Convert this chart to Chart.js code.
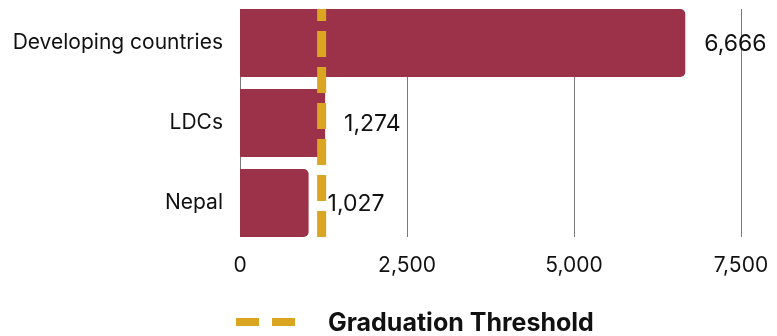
<!DOCTYPE html>
<html>
<head>
<meta charset="utf-8">
<script src="https://cdn.jsdelivr.net/npm/chart.js@4"></script>
<style>
    body { margin: 0; background: #fff; }
    #wrap { position: relative; width: 777px; height: 336px; }
    #leyenda { position: absolute; left: 236px; top: 307px; display: flex; align-items: center;
               font-family: Inter, sans-serif; font-weight: 700; font-size: 25px; color: #111; }
    #leyenda .guion { display: inline-block; width: 23px; height: 8px; background: #DAA520; margin-right: 13px; }
    #leyenda span.texto { margin-left: 20px; }
</style>
</head>
<body>
<div id="wrap">
    <canvas id="grafico"></canvas>
    <div id="leyenda"><i class="guion"></i><i class="guion"></i><span class="texto">Graduation Threshold</span></div>
</div>
<script>
// Datos: ingreso (GNI per capita, USD)
const categorias = ["Developing countries", "LDCs", "Nepal"];
const valores = [6666, 1274, 1027];
const umbral = 1222;
const ticksX = [0, 2500, 5000, 7500];

const colorBarra = "#9B3249";
const colorUmbral = "#DAA520";
const fuente = "Inter, sans-serif";

// Lineas de cuadricula, linea punteada del umbral y etiquetas de valor
const lineasExtra = {
    id: "lineasExtra",
    beforeDatasetsDraw(chart) {
        const ctx = chart.ctx;
        const meta = chart.getDatasetMeta(0);
        const primera = meta.data[0];
        const ultima = meta.data[meta.data.length - 1];
        const arriba = primera.y - primera.height / 2;
        const abajo = ultima.y + ultima.height / 2;
        ctx.save();
        ctx.strokeStyle = "#7a7a7a";
        ctx.lineWidth = 1;
        ticksX.forEach(v => {
            const px = Math.round(chart.scales.x.getPixelForValue(v)) + 0.5;
            ctx.beginPath();
            ctx.moveTo(px, arriba);
            ctx.lineTo(px, abajo);
            ctx.stroke();
        });
        ctx.restore();
    },
    afterDatasetsDraw(chart) {
        const ctx = chart.ctx;
        const meta = chart.getDatasetMeta(0);
        const primera = meta.data[0];
        const ultima = meta.data[meta.data.length - 1];
        const arriba = primera.y - primera.height / 2;
        const abajo = ultima.y + ultima.height / 2;

        ctx.save();
        const px = chart.scales.x.getPixelForValue(umbral);
        ctx.strokeStyle = colorUmbral;
        ctx.lineWidth = 9;
        ctx.setLineDash([26, 10]);
        ctx.beginPath();
        ctx.moveTo(px, abajo);
        ctx.lineTo(px, arriba);
        ctx.stroke();
        ctx.setLineDash([]);

        ctx.fillStyle = "#111";
        ctx.font = "23px " + fuente;
        ctx.textAlign = "left";
        ctx.textBaseline = "middle";
        meta.data.forEach((barra, i) => {
            ctx.fillText(valores[i].toLocaleString("en-US"), barra.x + 19, barra.y + 1);
        });
        ctx.restore();
    }
};

const ctx = document.getElementById("grafico").getContext("2d");
const grafico = new Chart(ctx, {
    type: "bar",
    data: {
        labels: categorias,
        datasets: [{
            data: valores,
            backgroundColor: colorBarra,
            borderRadius: 5,
            borderSkipped: "start",
            barPercentage: 0.85,
            categoryPercentage: 1
        }]
    },
    options: {
        indexAxis: "y",
        responsive: true,
        maintainAspectRatio: false,
        animation: false,
        layout: { padding: { top: 3, right: 36, bottom: 0, left: 0 } },
        plugins: {
            legend: { display: false },
            tooltip: { enabled: false }
        },
        scales: {
            x: {
                min: 0,
                max: 7500,
                afterBuildTicks: scale => { scale.ticks = ticksX.map(v => ({ value: v })); },
                afterFit: scale => { scale.height = 93; },
                grid: { display: false },
                border: { display: false },
                ticks: {
                    padding: 2,
                    color: "#111",
                    font: { family: fuente, size: 21 },
                    callback: v => v.toLocaleString("en-US")
                }
            },
            y: {
                afterFit: scale => {
                    scale.width = 240;
                    scale.paddingTop = 0;
                    scale.paddingBottom = 0;
                },
                grid: { display: false, drawTicks: false },
                border: { display: false },
                ticks: {
                    padding: 17,
                    color: "#111",
                    font: { family: fuente, size: 21 }
                }
            }
        }
    },
    plugins: [lineasExtra]
});
</script>
</body>
</html>
